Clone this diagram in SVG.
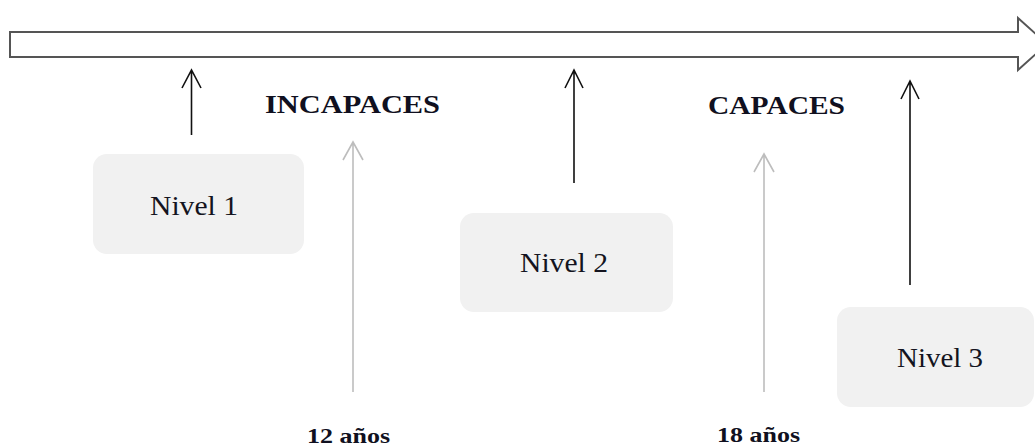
<svg xmlns="http://www.w3.org/2000/svg" width="1035" height="448" viewBox="0 0 1035 448">
<style>
.box{fill:#f1f1f1;stroke:none}
.lbl{font-family:"Liberation Serif","Times New Roman",serif;font-size:27px;fill:#141420;text-anchor:start}
.hd{font-family:"Liberation Serif","Times New Roman",serif;font-size:25px;font-weight:bold;fill:#101020}
.age{font-family:"Liberation Serif","Times New Roman",serif;font-size:22px;font-weight:bold;fill:#101020}
.blk{stroke:#111;stroke-width:1.6;fill:none}
.gry{stroke:#bdbdbd;stroke-width:1.6;fill:none}
</style>
<rect width="1035" height="448" fill="#ffffff"/>
<g id="timeline">
<polygon points="10,32 1018,32 1018,18 1047,44 1018,70 1018,57 10,57" fill="#ffffff" stroke="#555" stroke-width="2"/>
</g>
<g id="connectors">
<path class="blk" d="M191.5,135 V71 M182,88 L191.5,70 L201,88"/>
<path class="blk" d="M574,183 V71 M565,88 L574,70 L583,88"/>
<path class="blk" d="M910,285 V82 M901,99 L910,81 L919,99"/>
<path class="gry" d="M353,392 V143 M343,160 L353,142 L363,160"/>
<path class="gry" d="M764,392 V155 M754,172 L764,154 L774,172"/>
</g>
<g id="nivel1">
<rect class="box" x="93" y="154" width="211" height="100" rx="14"/>
<text class="lbl" x="150" y="215" textLength="88" lengthAdjust="spacingAndGlyphs">Nivel 1</text>
</g>
<g id="nivel2">
<rect class="box" x="460" y="213" width="213" height="99" rx="14"/>
<text class="lbl" x="520" y="272" textLength="88" lengthAdjust="spacingAndGlyphs">Nivel 2</text>
</g>
<g id="nivel3">
<rect class="box" x="837" y="307" width="197" height="100" rx="14"/>
<text class="lbl" x="897" y="367" textLength="86" lengthAdjust="spacingAndGlyphs">Nivel 3</text>
</g>
<g id="incapaces">
<text class="hd" x="265" y="113" textLength="175" lengthAdjust="spacingAndGlyphs">INCAPACES</text>
</g>
<g id="capaces">
<text class="hd" x="708" y="114" textLength="137" lengthAdjust="spacingAndGlyphs">CAPACES</text>
</g>
<g id="age12">
<text class="age" x="307" y="443" textLength="83" lengthAdjust="spacingAndGlyphs">12 años</text>
</g>
<g id="age18">
<text class="age" x="717" y="442" textLength="83" lengthAdjust="spacingAndGlyphs">18 años</text>
</g>
</svg>
